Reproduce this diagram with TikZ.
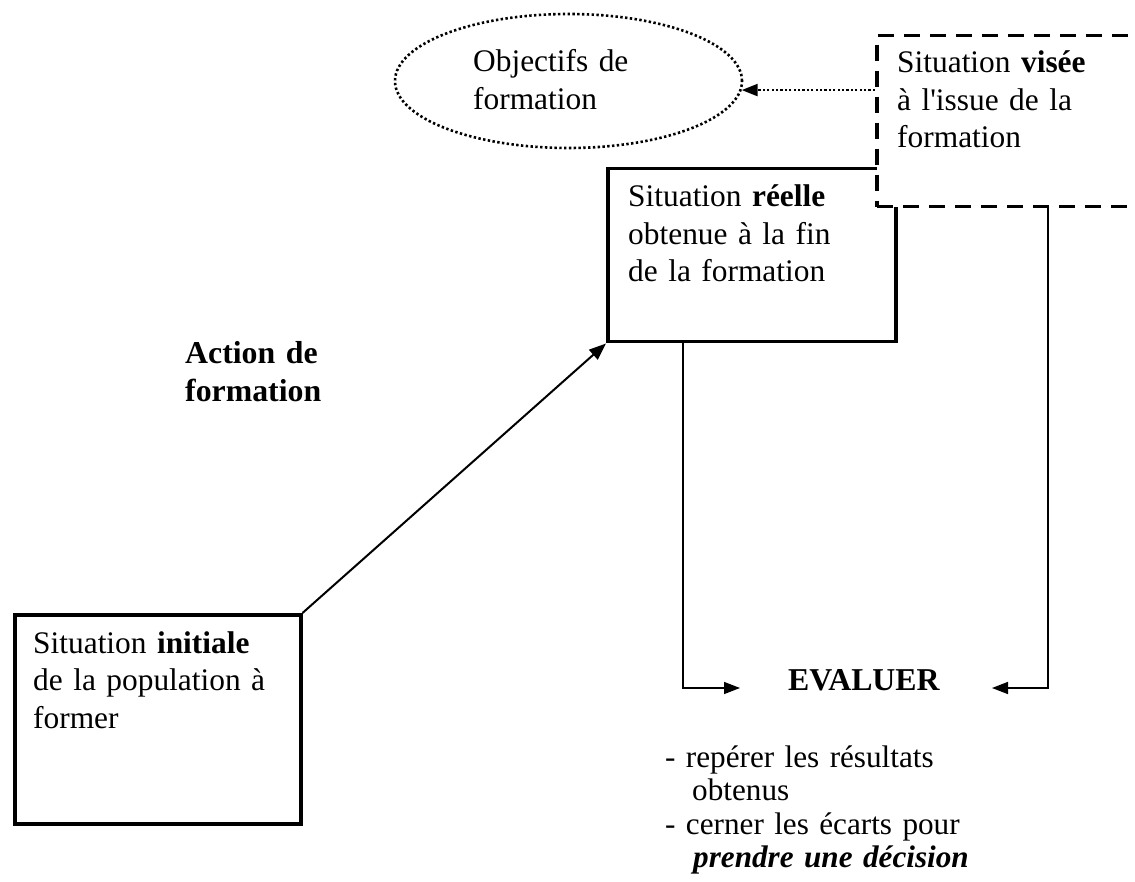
\documentclass[tikz,border=0pt]{standalone}
\usepackage{fontspec}
\setmainfont{Liberation Serif}
\usetikzlibrary{arrows.meta,shapes.geometric}

\begin{document}
\begin{tikzpicture}[x=1pt,y=-1pt,
  txt/.style={anchor=base west,inner sep=0pt,align=left,text width=#1,
              font=\fontsize{31.4}{37.5}\selectfont},
  listtxt/.style={anchor=base west,inner sep=0pt,align=left,text width=#1,
              font=\fontsize{31.2}{33.6}\selectfont},
  box/.style={draw,line width=3.5pt,fill=white,inner sep=0pt,anchor=north west},
  goalbox/.style={box,dash pattern=on 16pt off 10pt},
  goaloval/.style={draw,ellipse,line width=2.6pt,dash pattern=on 2.4pt off 2.4pt,inner sep=0pt},
  flow/.style={line width=2pt,-{Triangle[length=17pt,width=13pt]}},
  link/.style={line width=1.5pt,-{Triangle[length=16pt,width=12pt]}},
  dotlink/.style={line width=2.4pt,dash pattern=on 2.2pt off 2.2pt,-{Triangle[length=16pt,width=12pt]}}
]
\clip (0,0) rectangle (1135,882);
\fill[white] (0,0) rectangle (1135,882);

% boxes
\node[box,minimum width=286,minimum height=209] (init) at (13,613) {};
\node[box,minimum width=288,minimum height=173] (reel) at (606,167) {};
\node[goalbox,minimum width=300,minimum height=171] (vise) at (875,34) {};
\node[goaloval,minimum width=347,minimum height=134] (obj) at (568.5,81) {};

% box texts
\node[txt=260] (tinit) at (33,653) {Situation \textbf{initiale}\\de la population à\\former};
\node[txt=260] (treel) at (628,207) {Situation \textbf{réelle}\\obtenue à la fin\\de la formation};
\node[txt=240] (tvise) at (897,73) {Situation \textbf{visée}\\à l\textquotesingle issue de la\\formation};
\node[txt=240] (tobj) at (473,72) {Objectifs de\\formation};
\node[txt=240,font=\fontsize{31.8}{38.5}\selectfont\bfseries] (action) at (185,363) {Action de\\formation};

% evaluation
\node[txt=200,font=\fontsize{31.8}{37.5}\selectfont\bfseries] (evl) at (788,690) {EVALUER};
\node[listtxt=400] (todo) at (665,767) {- repérer les résultats\\\hspace*{27pt}obtenus\\- cerner les écarts pour\\\hspace*{28pt}\textbf{\textit{prendre une décision}}};

\coordinate (evalL) at (740,688);
\coordinate (evalR) at (992,688);

% connectors
\draw[flow] (init.north east) -- (reel.south west);
\draw[dotlink] (vise.west |- obj.-3.3) -- (obj.-3.3);
\draw[link] ([xshift=77pt]reel.south west) |- (evalL);
\draw[link] ([xshift=173pt]vise.south west) |- (evalR);
\end{tikzpicture}
\end{document}
